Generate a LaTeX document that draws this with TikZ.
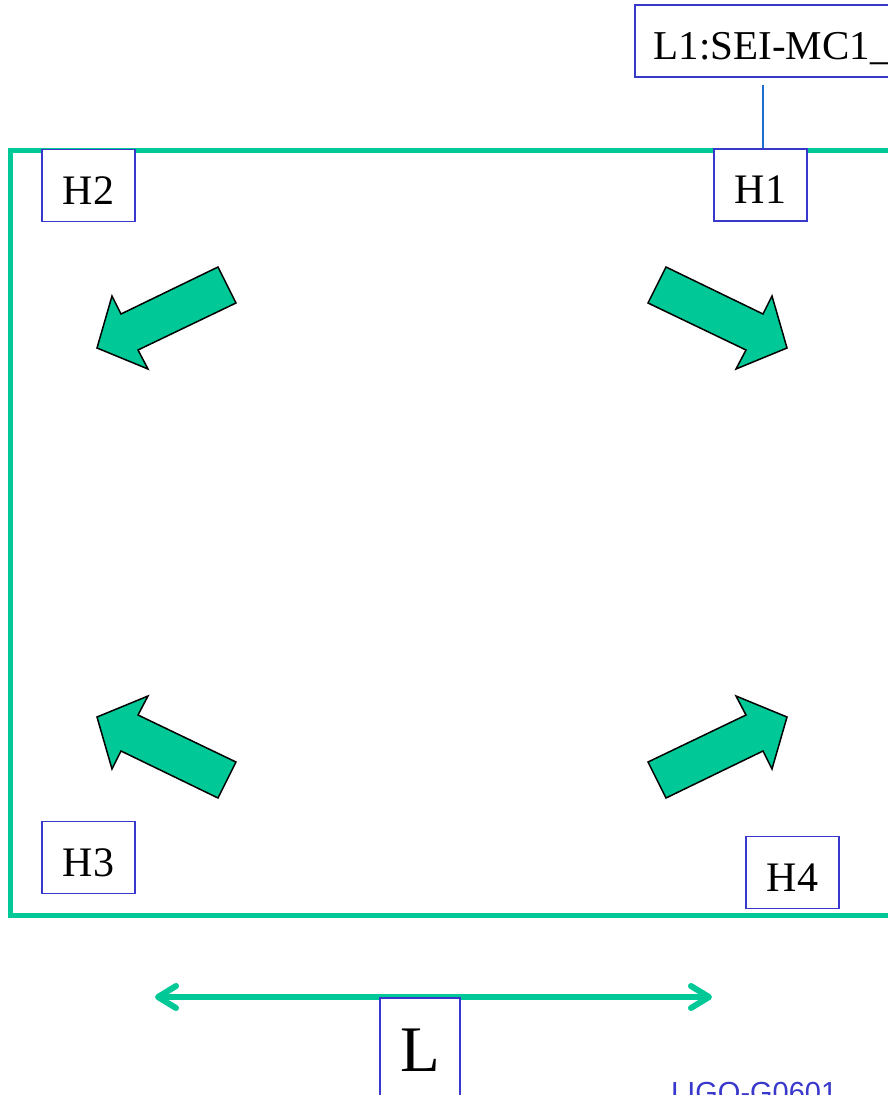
\documentclass[tikz,border=0pt]{standalone}
\usepackage{fontspec}
\setmainfont{Liberation Serif}
\newfontfamily\ligosans{Liberation Sans}
\usetikzlibrary{arrows.meta,calc}
\definecolor{frgreen}{HTML}{00C896}
\definecolor{boxblue}{HTML}{3838CC}
\definecolor{linkblue}{HTML}{1F6FD0}
\tikzset{
  hbox/.style={draw=boxblue, line width=1.5pt, fill=white, minimum width=93pt, minimum height=72pt, inner sep=0pt, text height=37pt, text depth=0pt, font=\fontsize{42}{48}\selectfont},
  blockarrow/.style={fill=frgreen, draw=black, line width=1.5pt, line join=miter},
}
\begin{document}
\begin{tikzpicture}[x=1pt,y=-1pt]
\useasboundingbox (0,0) rectangle (888,1095);
\clip (0,0) rectangle (888,1095);
% frame
\draw[frgreen, line width=5pt] (10.5,150) rectangle (890,915.5);
% block arrows
\draw[blockarrow] (218,267) -- (121,314) -- (112,296) -- (97,348) -- (148,369) -- (138,350) -- (236,303) -- cycle;
\draw[blockarrow] (666,267) -- (763,314) -- (772,296) -- (787,348) -- (736,369) -- (746,350) -- (648,303) -- cycle;
\draw[blockarrow] (218,798) -- (121,751) -- (112,769) -- (97,717) -- (148,696) -- (138,715) -- (236,762) -- cycle;
\draw[blockarrow] (666,798) -- (763,751) -- (772,769) -- (787,717) -- (736,696) -- (746,715) -- (648,762) -- cycle;
% label boxes
\node[hbox] (H1) at (760.5,185) {H1};
\node[hbox] (H2) at (88.5,185.5) {H2};
\node[hbox] (H3) at (88.5,857.5) {H3};
\node[hbox] (H4) at (792.5,872.5) {H4};
\node[draw=boxblue, line width=1.5pt, anchor=west, minimum height=72pt, text width=420pt, align=left, inner xsep=19pt, inner ysep=0pt, text height=36pt, text depth=0pt, font=\fontsize{41}{48}\selectfont] (L1) at (634,41) {L1:SEI-MC1\_};
\draw[linkblue, line width=1.2pt, shorten <=7pt] ($(L1.south -| H1.north)+(2.5,0)$) coordinate (Ltop) -- ($(H1.north)+(2.5,0)$);
% length arrow
\coordinate (Lleft) at (155,997);
\coordinate (Lright) at (712,997);
\draw[frgreen, line width=6pt, line cap=round, {Straight Barb[length=18pt,width=22pt,round]}-{Straight Barb[length=18pt,width=22pt,round]}] (Lleft) -- (Lright);
\node[draw=boxblue, line width=1.5pt, fill=white, anchor=north, minimum width=80pt, minimum height=104pt, inner sep=0pt, font=\fontsize{65}{70}\selectfont] (Lbox) at (420,997) {L};
\node[anchor=base west, inner sep=0pt, text=boxblue, font=\ligosans\fontsize{29}{32}\selectfont] (ligo) at (671,1102) {LIGO-G0601};
\end{tikzpicture}
\end{document}
